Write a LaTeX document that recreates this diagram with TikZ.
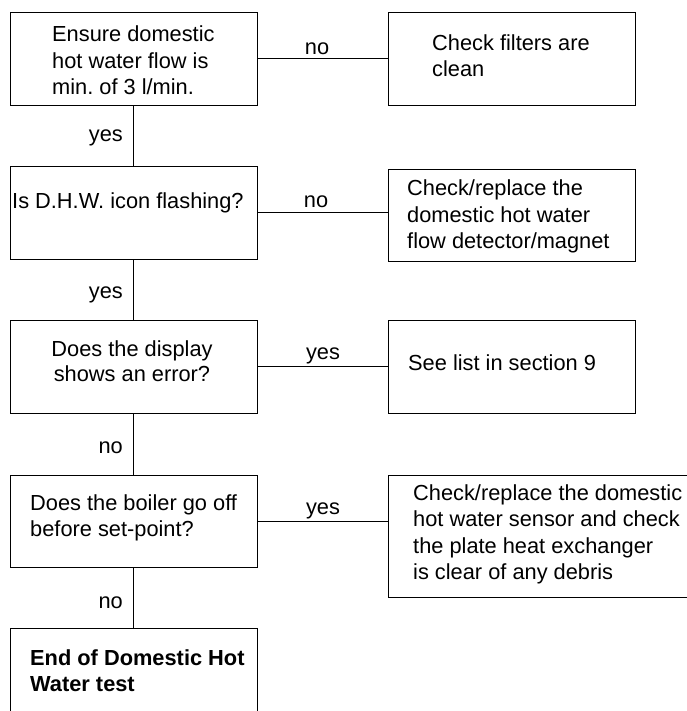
\documentclass[tikz,border=0pt]{standalone}
\usepackage{fontspec}
\setmainfont{Liberation Sans}
\frenchspacing
\begin{document}
\begin{tikzpicture}[x=1pt,y=-1pt,
  box/.style={draw=black, line width=0.9pt, rectangle, inner sep=0pt, minimum width=246.3pt},
  rbox/.style={box, minimum width=247pt},
  txt/.style={font=\fontsize{21.8}{26.5}\selectfont, inner sep=0pt, align=left, anchor=base west},
  ctxt/.style={font=\fontsize{21.8}{25}\selectfont, inner sep=0pt, align=center, anchor=base},
  lbl/.style={font=\fontsize{21.8}{26.5}\selectfont, inner sep=0pt, anchor=base},
  vlbl/.style={font=\fontsize{21.8}{26.5}\selectfont, inner sep=0pt, anchor=base east},
  conn/.style={line width=0.9pt, draw=black}]
\useasboundingbox (0,0) rectangle (686,711);

% left column
\node[box, minimum height=92.3pt] (b1) at (133.9,58.9) {};
\node[box, minimum height=93pt] (b2) at (133.9,212.5) {};
\node[box, minimum height=93pt] (b3) at (133.9,366.5) {};
\node[box, minimum height=92pt] (b4) at (133.9,521) {};
\node[box, minimum height=92pt] (b5) at (133.9,674) {};

% right column
\node[rbox, minimum height=92.3pt] (r1) at (511.5,58.9) {};
\node[rbox, minimum height=92pt] (r2) at (511.5,215) {};
\node[rbox, minimum height=93pt] (r3) at (511.5,366.5) {};
\node[box, minimum width=300pt, minimum height=122pt] (r4) at (538,536) {};

% texts (base anchor = baseline of last line)
\node[txt] (t1) at (52,95) {Ensure domestic\\hot water flow is\\min. of 3 l/min.};
\node[txt] (t2) at (12,208.3) {Is D.H.W. icon flashing?};
\node[ctxt] (t3) at (132,381.7) {Does the display\\shows an error?};
\node[txt] (t4) at (30,536.7) {Does the boiler go off\\before set-point?};
\node[txt, font=\fontsize{21.8}{26.5}\selectfont\bfseries] (t5) at (30,691.7) {End of Domestic Hot\\Water test};

\node[txt] (s1) at (432,76.7) {Check filters are\\clean};
\node[txt] (s2) at (407,248.5) {Check/replace the\\domestic hot water\\flow detector/magnet};
\node[txt] (s3) at (408,370) {See list in section 9};
\node[txt] (s4) at (413,579.5) {Check/replace the domestic\\hot water sensor and check\\the plate heat exchanger\\is clear of any debris};

% connectors
\draw[conn] (b1.east) -- (b1.east -| r1.west);
\draw[conn] (b2.east) -- (b2.east -| r2.west);
\draw[conn] (b3.east) -- (b3.east -| r3.west);
\draw[conn] (b4.east) -- (b4.east -| r4.west);
\draw[conn] (b1.south) -- (b2.north);
\draw[conn] (b2.south) -- (b3.north);
\draw[conn] (b3.south) -- (b4.north);
\draw[conn] (b4.south) -- (b5.north);

% connector labels
\node[lbl] (l1) at (317,55) {no};
\node[lbl] (l2) at (316,207.7) {no};
\node[lbl] (l3) at (323,359) {yes};
\node[lbl] (l4) at (323,514) {yes};
\node[vlbl] (v1) at (123,141.7) {yes};
\node[vlbl] (v2) at (123,298) {yes};
\node[vlbl] (v3) at (123,453) {no};
\node[vlbl] (v4) at (123,608) {no};
\end{tikzpicture}
\end{document}
